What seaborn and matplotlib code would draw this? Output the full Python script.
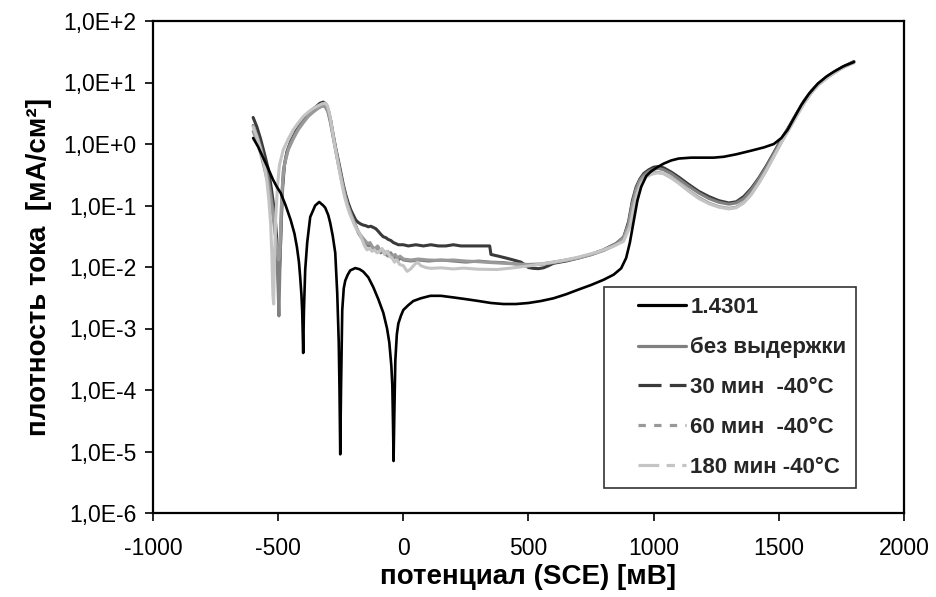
import matplotlib
matplotlib.use("Agg")
import math
import matplotlib.pyplot as plt
from matplotlib.lines import Line2D
from matplotlib.legend_handler import HandlerLine2D
from matplotlib.ticker import FuncFormatter, FixedLocator, NullLocator
import seaborn as sns
import pandas as pd

# ---------------- data (potential mV, current density mA/cm2) ----------------
labels = ["1.4301", "без выдержки", "30 мин  -40°C", "60 мин  -40°C", "180 мин -40°C"]

s_14301 = [(-600,1.25),(-580,0.9),(-560,0.6),(-540,0.4),(-520,0.26),(-505,0.2),(-490,0.16),
    (-470,0.1),(-450,0.058),(-435,0.035),(-425,0.021),(-417,0.012),(-412,0.0068),(-407,0.0035),
    (-404,0.0019),(-402,0.0009),(-400,0.0004),(-397,0.002),(-392,0.009),(-384,0.025),(-372,0.065),
    (-352,0.1),(-336,0.114),(-320,0.1),(-312,0.092),(-300,0.07),(-292,0.052),(-282,0.032),
    (-272,0.017),(-264,0.0037),(-258,0.0006),(-255,0.0001),(-252,0.000009),(-249,0.0001),
    (-246,0.0006),(-244,0.002),(-238,0.0045),(-232,0.006),(-222,0.0075),(-212,0.0088),
    (-192,0.0096),(-175,0.0092),(-160,0.0084),(-140,0.0068),(-120,0.0047),(-100,0.003),
    (-80,0.0018),(-65,0.001),(-56,0.00059),(-48,0.00025),(-44,0.00012),(-41,0.000025),
    (-39,0.000007),(-36,0.00004),(-32,0.0003),(-26,0.0008),(-20,0.0012),(-10,0.0016),(0,0.002),
    (20,0.0024),(40,0.0028),(70,0.0031),(108,0.0034),(150,0.0034),(200,0.0032),(250,0.003),
    (300,0.0028),(350,0.0026),(400,0.0025),(450,0.0025),(500,0.0026),(550,0.0028),(600,0.0031),
    (650,0.0036),(700,0.0043),(750,0.0051),(800,0.0062),(840,0.0075),(870,0.0095),(890,0.014),
    (905,0.025),(920,0.055),(935,0.12),(950,0.2),(970,0.3),(990,0.36),(1015,0.42),(1040,0.48),
    (1070,0.54),(1100,0.58),(1150,0.6),(1190,0.6),(1240,0.6),(1280,0.62),(1330,0.68),(1390,0.78),
    (1440,0.88),(1480,1.0),(1510,1.25),(1535,1.7),(1560,2.6),(1590,4.3),(1620,6.5),(1655,9.5),
    (1690,12.5),(1720,15),(1760,18.5),(1800,21.5)]

s_bez = [(-600,2.0),(-585,1.4),(-570,0.9),(-555,0.5),(-540,0.28),(-528,0.14),(-518,0.07),
    (-510,0.03),(-504,0.011),(-500,0.004),(-497,0.0016),(-494,0.006),(-490,0.03),(-486,0.12),
    (-480,0.35),(-470,0.6),(-455,0.95),(-435,1.4),(-415,1.9),(-395,2.5),(-375,3.1),(-355,3.6),
    (-340,4.0),(-325,4.2),(-313,4.1),(-302,3.4),(-292,2.3),(-282,1.4),(-272,0.85),(-262,0.52),
    (-252,0.33),(-242,0.21),(-232,0.14),(-222,0.1),(-212,0.075),(-200,0.058),(-190,0.046),
    (-180,0.036),(-170,0.031),(-160,0.028),(-150,0.025),(-140,0.022),(-130,0.023),(-120,0.02),
    (-110,0.019),(-100,0.021),(-90,0.017),(-80,0.018),(-70,0.016),(-60,0.015),(-50,0.017),
    (-40,0.014),(-30,0.015),(-20,0.013),(-10,0.014),(0,0.013),(30,0.0125),(60,0.013),
    (100,0.0125),(150,0.013),(200,0.0125),(250,0.012),(300,0.0125),(350,0.012),(400,0.0118),
    (450,0.0112),(500,0.011),(550,0.0112),(600,0.012),(650,0.013),(700,0.0142),(750,0.016),
    (800,0.019),(850,0.024),(880,0.031),(900,0.05),(915,0.11),(930,0.19),(945,0.26),(960,0.31),
    (980,0.36),(1000,0.39),(1020,0.4),(1040,0.38),(1070,0.33),(1100,0.27),(1140,0.205),
    (1180,0.16),(1220,0.13),(1260,0.113),(1300,0.105),(1330,0.11),(1360,0.13),(1390,0.18),
    (1420,0.27),(1450,0.42),(1480,0.7),(1510,1.15),(1540,1.85),(1570,3.0),(1600,4.8),
    (1630,7.1),(1660,9.6),(1700,12.8),(1750,17.2),(1800,21.5)]

s_30 = [(-600,2.7),(-585,1.9),(-570,1.2),(-555,0.7),(-540,0.4),(-528,0.2),(-518,0.1),
    (-510,0.05),(-504,0.022),(-499,0.011),(-495,0.009),(-491,0.02),(-487,0.06),(-482,0.2),
    (-475,0.45),(-465,0.75),(-450,1.1),(-430,1.6),(-410,2.2),(-390,2.8),(-370,3.4),(-350,4.0),
    (-333,4.6),(-320,4.8),(-310,4.5),(-300,3.6),(-290,2.4),(-280,1.4),(-270,0.85),(-260,0.55),
    (-250,0.35),(-240,0.22),(-230,0.15),(-220,0.11),(-210,0.085),(-200,0.07),(-190,0.058),
    (-180,0.053),(-170,0.05),(-160,0.048),(-150,0.047),(-140,0.045),(-130,0.046),(-120,0.044),
    (-110,0.042),(-100,0.038),(-90,0.034),(-80,0.031),(-70,0.03),(-60,0.028),(-50,0.027),
    (-40,0.025),(-30,0.024),(-20,0.023),(-10,0.023),(0,0.023),(20,0.022),(50,0.023),(80,0.022),
    (110,0.023),(140,0.022),(170,0.022),(200,0.023),(230,0.022),(260,0.022),(290,0.022),
    (320,0.022),(345,0.022),(350,0.016),(380,0.015),(410,0.014),(440,0.013),(470,0.012),
    (500,0.0098),(520,0.0095),(540,0.0094),(560,0.0097),(580,0.0105),(600,0.0115),(650,0.0125),
    (700,0.014),(750,0.016),(800,0.019),(850,0.024),(880,0.03),(900,0.055),(915,0.12),(930,0.2),
    (945,0.27),(960,0.33),(980,0.38),(1000,0.42),(1020,0.43),(1040,0.41),(1070,0.35),(1100,0.29),
    (1140,0.22),(1180,0.17),(1220,0.14),(1260,0.12),(1300,0.11),(1330,0.115),(1360,0.14),
    (1390,0.19),(1420,0.28),(1450,0.44),(1480,0.72),(1510,1.2),(1540,1.9),(1570,3.1),(1600,5.0),
    (1630,7.3),(1660,9.8),(1700,13),(1750,17.5),(1800,22)]

s_60 = [(-600,1.6),(-585,1.1),(-570,0.7),(-555,0.4),(-540,0.22),(-528,0.11),(-518,0.055),
    (-510,0.03),(-504,0.018),(-499,0.013),(-495,0.015),(-491,0.035),(-487,0.1),(-482,0.25),
    (-475,0.45),(-460,0.8),(-440,1.2),(-420,1.7),(-400,2.2),(-380,2.8),(-360,3.3),(-340,3.8),
    (-325,4.1),(-313,4.2),(-303,3.7),(-293,2.6),(-283,1.6),(-273,0.95),(-263,0.58),(-253,0.36),
    (-243,0.23),(-233,0.15),(-223,0.105),(-213,0.08),(-203,0.062),(-193,0.05),(-183,0.04),
    (-173,0.034),(-163,0.03),(-153,0.027),(-143,0.024),(-133,0.025),(-123,0.021),(-113,0.02),
    (-103,0.022),(-93,0.018),(-83,0.019),(-73,0.017),(-63,0.018),(-53,0.016),(-43,0.015),
    (-33,0.016),(-23,0.014),(-13,0.015),(0,0.0135),(30,0.013),(60,0.0135),(100,0.013),
    (150,0.0128),(200,0.013),(250,0.0125),(300,0.0122),(350,0.0118),(400,0.0115),(450,0.0112),
    (500,0.0108),(550,0.011),(600,0.0118),(650,0.0128),(700,0.014),(750,0.0158),(800,0.0185),
    (850,0.023),(880,0.029),(900,0.048),(915,0.1),(930,0.17),(945,0.24),(960,0.29),(980,0.32),
    (1000,0.34),(1020,0.345),(1040,0.33),(1070,0.285),(1100,0.235),(1140,0.175),(1180,0.135),
    (1220,0.11),(1260,0.096),(1300,0.09),(1330,0.094),(1360,0.113),(1390,0.155),(1420,0.235),
    (1450,0.38),(1480,0.64),(1510,1.08),(1540,1.75),(1570,2.85),(1600,4.6),(1630,6.9),
    (1660,9.4),(1700,12.6),(1750,17.1),(1800,21.2)]

s_180 = [(-600,1.9),(-585,1.3),(-570,0.8),(-555,0.45),(-545,0.25),(-537,0.12),(-530,0.05),
    (-525,0.015),(-521,0.0035),(-518,0.0025),(-515,0.012),(-510,0.06),(-503,0.2),(-495,0.45),
    (-480,0.8),(-460,1.2),(-440,1.7),(-420,2.2),(-400,2.8),(-380,3.3),(-360,3.8),(-340,4.2),
    (-325,4.5),(-313,4.6),(-303,4.2),(-294,3.0),(-285,1.8),(-275,1.0),(-265,0.6),(-255,0.36),
    (-245,0.22),(-235,0.14),(-225,0.1),(-215,0.075),(-205,0.06),(-195,0.048),(-185,0.04),
    (-175,0.035),(-165,0.028),(-155,0.022),(-145,0.019),(-135,0.02),(-125,0.018),(-115,0.019),
    (-105,0.017),(-95,0.018),(-85,0.02),(-75,0.016),(-65,0.018),(-55,0.015),(-45,0.014),
    (-35,0.012),(-25,0.013),(-15,0.011),(0,0.0105),(15,0.0085),(28,0.0092),(45,0.011),
    (56,0.012),(70,0.0105),(90,0.0098),(110,0.0095),(150,0.0097),(200,0.0093),(240,0.0096),
    (300,0.0092),(375,0.0091),(440,0.0097),(507,0.0105),(570,0.0115),(640,0.0128),(700,0.0145),
    (775,0.0175),(830,0.021),(879,0.026),(905,0.045),(920,0.09),(935,0.16),(950,0.23),(970,0.29),
    (990,0.32),(1015,0.34),(1040,0.33),(1070,0.28),(1100,0.23),(1140,0.17),(1180,0.13),
    (1220,0.107),(1260,0.094),(1300,0.088),(1330,0.092),(1360,0.11),(1390,0.15),(1420,0.23),
    (1450,0.37),(1480,0.62),(1510,1.05),(1540,1.7),(1570,2.8),(1600,4.5),(1630,6.8),
    (1660,9.3),(1700,12.5),(1750,17),(1800,21)]

x_ticks = [-1000, -500, 0, 500, 1000, 1500, 2000]
y_exps = [-6, -5, -4, -3, -2, -1, 0, 1, 2]

# ---------------- styling ----------------
sns.set_theme(style="white")
plt.rcParams['font.family'] = ['Liberation Sans', 'DejaVu Sans']

fig = plt.figure(figsize=(9.37, 5.97), dpi=100)
ax = fig.add_axes([153/937, 84/597, 751/937, 492/597])

styles = {
    "30 мин  -40°C": dict(color="#3a3a3a", lw=2.2, dashes=(7.2, 2.6)),
    "без выдержки": dict(color="#808080", lw=2.2, dashes=None),
    "60 мин  -40°C": dict(color="#999999", lw=2.2, dashes=(2.3, 2.6)),
    "180 мин -40°C": dict(color="#c4c4c4", lw=2.2, dashes=(6.5, 2.3, 2.6, 2.3)),
    "1.4301": dict(color="#000000", lw=1.9, dashes=None),
}
series = {"1.4301": s_14301, "без выдержки": s_bez, "30 мин  -40°C": s_30,
          "60 мин  -40°C": s_60, "180 мин -40°C": s_180}

draw_order = ["30 мин  -40°C", "без выдержки", "60 мин  -40°C", "180 мин -40°C", "1.4301"]
for name in draw_order:
    xs, ys = zip(*series[name])
    df = pd.DataFrame({"E": xs, "i": ys})
    st = styles[name]
    sns.lineplot(data=df, x="E", y="i", ax=ax, color=st["color"], linewidth=st["lw"],
                 estimator=None, sort=False, legend=False)

ax.set_yscale("log")
ax.set_xlim(-1000, 2000)
ax.set_ylim(1e-6, 1e2)
ax.xaxis.set_major_locator(FixedLocator(x_ticks))
ax.yaxis.set_major_locator(FixedLocator([10.0**e for e in y_exps]))
ax.yaxis.set_minor_locator(NullLocator())


def yfmt(v, pos):
    e = int(round(math.log10(v)))
    return "1,0E%+d" % e


ax.yaxis.set_major_formatter(FuncFormatter(yfmt))
ax.xaxis.set_major_formatter(FuncFormatter(lambda v, p: "%d" % v))

for sp in ax.spines.values():
    sp.set_visible(True)
    sp.set_color("black")
    sp.set_linewidth(1.6)

ax.tick_params(axis="both", which="major", direction="out", length=6, width=1.2,
               color="black", labelsize=16.5, labelcolor="black",
               bottom=True, left=True)
ax.tick_params(axis="x", pad=11)
ax.tick_params(axis="y", pad=6)

ax.set_xlabel("потенциал (SCE) [мВ]", fontsize=20, fontweight="bold", color="black", labelpad=3)
ax.set_ylabel("плотность тока  [мА/см²]", fontsize=20, fontweight="bold", color="black", labelpad=8)

handles = []
for name in labels:
    st = styles[name]
    h = Line2D([0], [0], color=st["color"], lw=2.3)
    if st["dashes"] is not None:
        h.set_dashes(st["dashes"])
    handles.append(h)

leg = ax.legend(handles, labels, loc="upper left", bbox_to_anchor=(0.600, 0.459),
                frameon=True, fancybox=False, shadow=False, framealpha=1,
                prop=dict(family="Liberation Sans", weight="bold", size=16),
                labelspacing=0.85, handlelength=3.25, handletextpad=0.2, borderpad=0.45,
                borderaxespad=0,
                handler_map={Line2D: HandlerLine2D(xpad=1.08)})
leg.get_frame().set_edgecolor("#333333")
leg.get_frame().set_linewidth(1.2)

fig.savefig("out.png", dpi=100)
